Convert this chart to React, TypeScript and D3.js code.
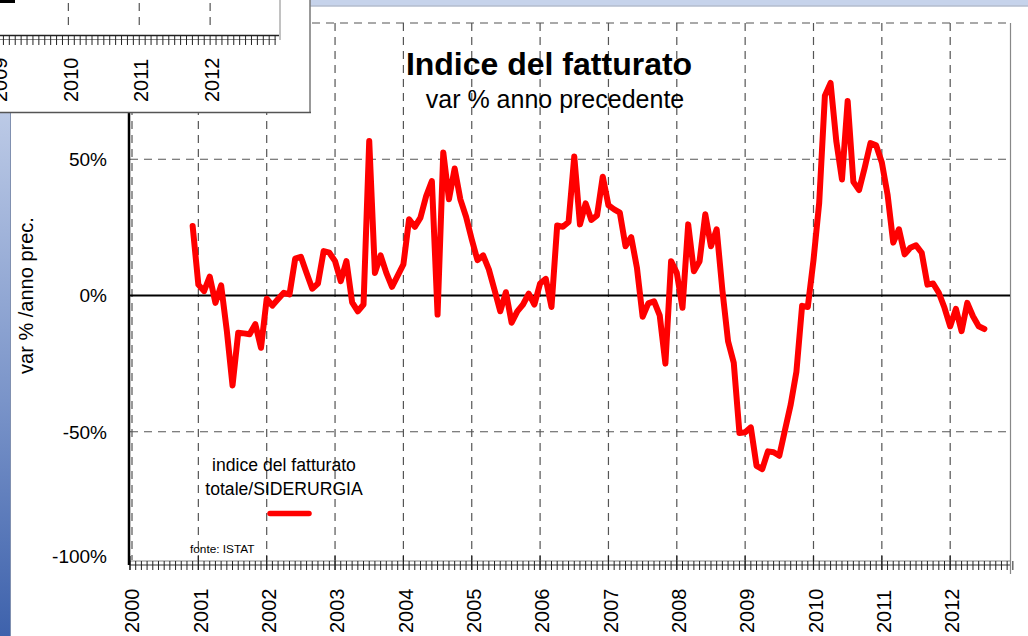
import React from 'react';
import * as d3 from 'd3';

// ---- tick labels / categories ----
const yearLabels = ['2000', '2001', '2002', '2003', '2004', '2005', '2006', '2007', '2008', '2009', '2010', '2011', '2012'];
const yTickValues = [50, 0, -50, -100];
const yTickLabels = ['50%', '0%', '-50%', '-100%'];
const dashedGridValues = [100, 50, -50];
const insetYearLabels = ['2009', '2010', '2011', '2012'];

// ---- series: var % anno precedente, monthly, from Dec 2000 ----
const v2000 = [25.5];
const v2001 = [4, 1.6, 6.9, -2.7, 3.7, -13, -33, -13.7, -13.9, -14.2, -10.5, -19.2];
const v2002 = [-1.2, -3.7, -1.3, 1, 0.4, 13.5, 14.2, 8.3, 2.5, 4.4, 16.3, 15.7];
const v2003 = [12.6, 5.3, 12.6, -2.5, -5.8, -3.3, 56.7, 8.3, 14.7, 8.3, 3.2, 7.3];
const v2004 = [11.4, 28, 25.2, 28.6, 36.5, 42, -7, 52.5, 35.3, 46.6, 35.3, 28.9];
const v2005 = [20.6, 13, 14.7, 9.6, 2, -5.8, 1.2, -10, -5.8, -3.3, 0.7, -3.3];
const v2006 = [4.4, 6.1, -4.2, 25.7, 25.2, 27, 51, 26.1, 33.8, 27.7, 29.4, 43.6];
const v2007 = [33.1, 31.6, 30.4, 18.1, 21.4, 10.2, -7.8, -2.9, -2.1, -7.3, -25, 12.6];
const v2008 = [8.3, -4.5, 26.1, 8.9, 12.6, 29.8, 18.1, 24.3, 2, -16.8, -24.7, -50.5];
const v2009 = [-50.2, -48.4, -62.5, -63.7, -57.2, -57.5, -58.8, -49.3, -40, -28, -3.8, -4.2];
const v2010 = [13, 34, 73.3, 78, 56.7, 42.6, 71.4, 41.7, 38.7, 47, 55.9, 55.1];
const v2011 = [48.8, 37.1, 19.4, 24.3, 15.1, 17.5, 18.4, 15.7, 4, 4.4, 1, -4.5];
const v2012 = [-11.3, -4.9, -13.1, -2.7, -7.6, -11.3, -12.3];
const seriesStart = { year: 2000, month: 11 };

const FONT = '"Liberation Sans", Arial, Helvetica, sans-serif';

export default function App() {
  const W = 1028;
  const H = 636;
  const values = [v2000, v2001, v2002, v2003, v2004, v2005, v2006, v2007, v2008, v2009, v2010, v2011, v2012].flat();
  const data = values.map((v, i) => ({ t: seriesStart.year + (seriesStart.month + i) / 12, v }));

  const x = d3.scaleLinear().domain([2000, 2012.875]).range([130, 1010]);
  const y = d3.scaleLinear().domain([-100, 100]).range([568, 23]);
  const line = d3.line<{ t: number; v: number }>().x(d => x(d.t)).y(d => y(d.v));

  const axisY = 565;
  const months = d3.range(0, Math.round((2012.875 - 2000) * 12) + 1).map(m => 2000 + m / 12);
  const years = yearLabels.map(Number);

  // inset (partial copy of another chart)
  const xi = d3.scaleLinear().domain([2009, 2013]).range([-2.5, 281]);
  const insetMonths = d3.range(0, 48).map(m => 2009 + m / 12).filter(t => xi(t) >= 0 && xi(t) <= 278);

  const gridColor = '#555';

  return (
    <svg width={W} height={H} style={{ position: 'absolute', left: 0, top: 0, background: '#fff' }} fontFamily={FONT}>
      <defs>
        <linearGradient id="strip" x1="0" y1="0" x2="0" y2="1">
          <stop offset="0%" stopColor="#bccae6" />
          <stop offset="55%" stopColor="#7a94c9" />
          <stop offset="100%" stopColor="#3e62ac" />
        </linearGradient>
      </defs>
      <rect x={0} y={0} width={W} height={H} fill="#fff" />

      {/* top bar */}
      <rect x={310} y={0} width={W - 310} height={5.5} fill="#c6d3eb" />
      <line x1={310} x2={W} y1={6} y2={6} stroke="#8d9bb5" strokeWidth={1.2} />

      {/* left blue strip */}
      <rect x={0} y={112} width={10} height={H - 112} fill="url(#strip)" />
      <line x1={10.5} x2={10.5} y1={112} y2={H} stroke="#8090b0" strokeWidth={1} />

      {/* dashed horizontal grid */}
      {dashedGridValues.map(v => (
        <line key={'hg' + v} x1={x(2000)} x2={x.range()[1]} y1={y(v)} y2={y(v)} stroke={gridColor} strokeWidth={1.2} strokeDasharray="8,6" />
      ))}
      {/* dashed vertical grid */}
      {years.map(yr => (
        <line key={'vg' + yr} x1={x(yr) + (yr === 2000 ? 2 : 0)} x2={x(yr) + (yr === 2000 ? 2 : 0)} y1={y(100)} y2={axisY - 5} stroke={gridColor} strokeWidth={1.2} strokeDasharray="8,6" />
      ))}
      {/* right border */}
      <line x1={x.range()[1] + 0.5} x2={x.range()[1] + 0.5} y1={y(100)} y2={axisY + 9} stroke="#888" strokeWidth={1.2} />

      {/* zero line */}
      <line x1={x(2000)} x2={x.range()[1]} y1={y(0)} y2={y(0)} stroke="#000" strokeWidth={2} />

      {/* x axis */}
      <line x1={x(2000)} x2={x.range()[1]} y1={axisY} y2={axisY} stroke="#333" strokeWidth={1} />
      <line x1={x(2000)} x2={x.range()[1]} y1={axisY - 4} y2={axisY - 4} stroke="#666" strokeWidth={0.8} />
      {months.map((t, i) => (
        <line key={'mt' + i} x1={x(t)} x2={x(t)} y1={axisY - 4} y2={axisY + 5} stroke="#222" strokeWidth={1} />
      ))}
      {years.map(yr => (
        <line key={'yt' + yr} x1={x(yr)} x2={x(yr)} y1={axisY - 9} y2={axisY + 5} stroke="#222" strokeWidth={1.2} />
      ))}
      {yearLabels.map((lbl, i) => (
        <text key={'yl' + lbl} transform={`translate(${x(years[i]) + 2},633) rotate(-90)`} fontSize={20} dy="0.36em" textAnchor="start" fill="#000">
          {lbl}
        </text>
      ))}

      {/* y axis */}
      <line x1={129} x2={129} y1={y(100)} y2={axisY} stroke="#000" strokeWidth={2.5} />
      {yTickValues.map((v, i) => (
        <text key={'ytl' + v} x={107} y={Math.min(y(v) + 6.8, 563)} fontSize={19} textAnchor="end" fill="#000">
          {yTickLabels[i]}
        </text>
      ))}
      <text transform={`translate(33,${y(0)}) rotate(-90)`} fontSize={20} textAnchor="middle" fill="#000">
        var % /anno prec.
      </text>

      {/* title */}
      <text x={549} y={75} fontSize={32} fontWeight="bold" textAnchor="middle" fill="#000">Indice del fatturato</text>
      <text x={555} y={108} fontSize={25} textAnchor="middle" fill="#000">var % anno precedente</text>

      {/* series */}
      <path d={line(data) || ''} fill="none" stroke="#ff0000" strokeWidth={6} strokeLinejoin="round" strokeLinecap="round" />

      {/* legend */}
      <text x={284} y={471} fontSize={17.6} textAnchor="middle" fill="#000">indice del fatturato</text>
      <text x={284} y={495} fontSize={17.6} textAnchor="middle" fill="#000">totale/SIDERURGIA</text>
      <line x1={270} x2={309} y1={513.5} y2={513.5} stroke="#ff0000" strokeWidth={5.5} strokeLinecap="round" />
      <text x={190} y={553} fontSize={11.8} fill="#000">fonte: ISTAT</text>

      {/* inset: bottom part of another chart window */}
      <g>
        <rect x={0} y={0} width={310} height={112} fill="#fff" />
        <line x1={310} x2={310} y1={0} y2={113} stroke="#777" strokeWidth={1.5} />
        <line x1={0} x2={311} y1={112.5} y2={112.5} stroke="#555" strokeWidth={1.5} />
        <rect x={0} y={0} width={15} height={3} fill="#000" />
        {[2010, 2011, 2012].map(yr => (
          <line key={'ig' + yr} x1={xi(yr)} x2={xi(yr)} y1={3} y2={30} stroke={gridColor} strokeWidth={1.2} strokeDasharray="8,6" />
        ))}
        <line x1={280} x2={280} y1={0} y2={40} stroke="#999" strokeWidth={1.2} />
        <line x1={0} x2={279} y1={35.5} y2={35.5} stroke="#222" strokeWidth={1.5} />
        <line x1={0} x2={276} y1={39.5} y2={39.5} stroke="#666" strokeWidth={0.8} />
        {insetMonths.map((t, i) => (
          <line key={'imt' + i} x1={xi(t)} x2={xi(t)} y1={35.5} y2={45} stroke="#222" strokeWidth={1} />
        ))}
        {insetYearLabels.map(lbl => (
          <text key={'iyl' + lbl} transform={`translate(${xi(Number(lbl)) + 2},102) rotate(-90)`} fontSize={20} dy="0.36em" textAnchor="start" fill="#000">
            {lbl}
          </text>
        ))}
      </g>
    </svg>
  );
}
